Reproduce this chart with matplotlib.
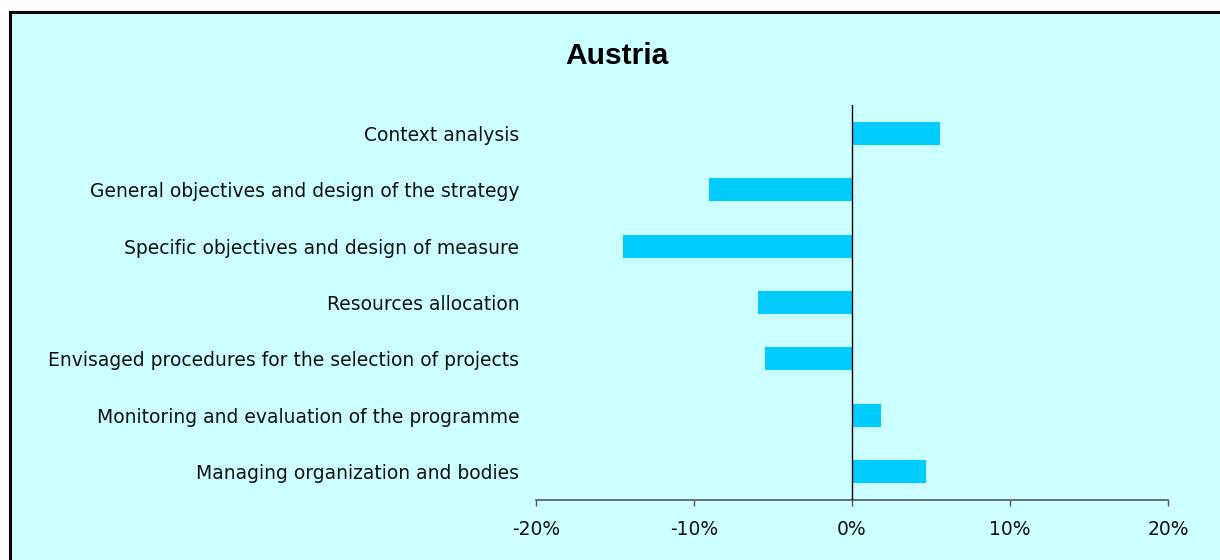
import matplotlib
matplotlib.use("Agg")
import matplotlib.pyplot as plt
from matplotlib.patches import Rectangle
from matplotlib.ticker import FuncFormatter

plt.rcParams['font.family'] = ['DejaVu Sans']

# data (percent)
categories = [
    "Context analysis",
    "General objectives and design of the strategy",
    "Specific objectives and design of measure",
    "Resources allocation",
    "Envisaged procedures for the selection of projects",
    "Monitoring and evaluation of the programme",
    "Managing organization and bodies",
]
values = [5.55, -9.05, -14.5, -5.93, -5.48, 1.86, 4.71]
x_ticks = [-20, -10, 0, 10, 20]

bg = "#CCFFFF"
bar_color = "#00CCFF"

fig = plt.figure(figsize=(12.2, 5.6), dpi=100)
fig.patch.set_facecolor("white")

# chart-area frame (runs off the right/bottom edge like the source)
frame = Rectangle((9.5 / 1220, -0.05), 1.1, 1 - 12 / 560 + 0.05,
                  transform=fig.transFigure, facecolor=bg,
                  edgecolor="black", linewidth=2.2, zorder=-5)
fig.patches.append(frame)

ax = fig.add_axes([536 / 1220, 60 / 560, 632 / 1220, 395 / 560])
ax.set_facecolor("none")
ax.set_zorder(2)

pos = list(range(len(categories)))
ax.barh(pos, values, height=0.41, color=bar_color, zorder=2)
ax.axvline(0, color="black", linewidth=1.0, zorder=3)

ax.set_xlim(-20, 20)
ax.set_ylim(len(categories) - 0.5, -0.5)

ax.set_yticks(pos)
ax.set_yticklabels(categories, fontsize=13.5, color="#111111")
ax.tick_params(axis="y", length=0, pad=12)

ax.set_xticks(x_ticks)
ax.xaxis.set_major_formatter(FuncFormatter(lambda v, p: f"{v:.0f}%"))
ax.tick_params(axis="x", direction="out", length=4.5, width=1,
               color="#555555", labelsize=13.5, labelcolor="#111111", pad=10)

for s in ["top", "right", "left"]:
    ax.spines[s].set_visible(False)
ax.spines["bottom"].set_color("#555555")
ax.spines["bottom"].set_linewidth(1.2)

fig.text(617 / 1220, 1 - 56 / 560, "Austria", ha="center", va="center",
         fontsize=21.5, fontweight="bold", family=["Liberation Sans", "DejaVu Sans"])

fig.savefig("out.png", dpi=100, facecolor=fig.get_facecolor())
